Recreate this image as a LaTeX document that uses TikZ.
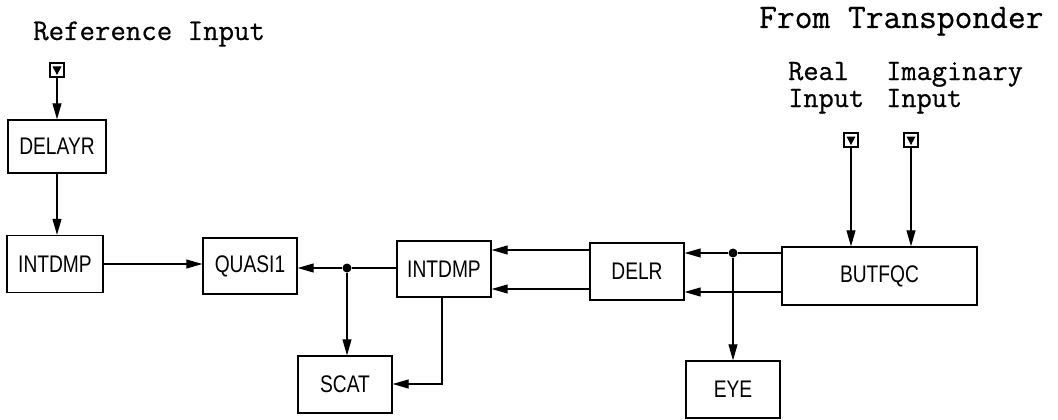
\documentclass[tikz,border=0pt]{standalone}
\usepackage{fontspec}
\setmainfont{Liberation Sans}[FakeStretch=0.8]
\newfontfamily\labfont[FakeBold=0.6]{Latin Modern Mono}
\usetikzlibrary{arrows.meta,calc}
\begin{document}
\begin{tikzpicture}[x=1pt,y=1pt,
  blk/.style={draw,line width=1.4pt,inner sep=0pt,minimum width=94pt,minimum height=57pt,font=\fontsize{24}{24}\selectfont},
  arr/.style={line width=1.1pt,-{Triangle[length=16pt,width=9pt]}},
  ln/.style={line width=1.1pt},
  dot/.style={circle,fill,inner sep=0pt,minimum size=9pt},
  inbox/.style={draw,line width=1.8pt,minimum size=14pt,inner sep=0pt},
  ttl/.style={anchor=base west,inner sep=0pt,font=\labfont\fontsize{30}{30}\selectfont},
  two/.style={anchor=base west,inner sep=0pt,align=left,font=\labfont\fontsize{29.5}{27}\selectfont}]
\useasboundingbox (0,0) rectangle (1058,-420);

% titles
\node[ttl] (tref) at (33,-40) {Reference Input};
\node[ttl,font=\labfont\fontsize{34.5}{34.5}\selectfont] (tfrom) at (759,-28) {From Transponder};
\node[two] (treal) at (788,-107) {Real\\Input};
\node[two] (timag) at (886,-107) {Imaginary\\Input};

% input squares
\node[inbox] (refin) at (57,-70) {};
\node[inbox] (realin) at (851,-140) {};
\node[inbox] (imagin) at (911,-140) {};
\foreach \s in {refin,realin,imagin}{
  \fill ($(\s.center)+(-4.5,3.5)$) -- ++(9,0) -- ++(-4.5,-8.5) -- cycle;
}

% blocks
\node[blk,minimum width=98pt,minimum height=53pt] (delayr) at (57,-146.5) {DELAYR};
\node[blk,minimum width=96pt] (intdmpa) at (55,-264) {INTDMP};
\node[blk,minimum height=56pt] (quasi) at (250,-266) {QUASI1};
\node[blk,minimum height=56pt] (intdmpb) at (444,-269) {INTDMP};
\node[blk] (scat) at (345,-384.5) {SCAT};
\node[blk] (delr) at (637,-271.5) {DELR};
\node[blk,minimum width=195pt,minimum height=58pt] (butfqc) at (879.5,-276) {BUTFQC};
\node[blk] (eye) at (733,-389.5) {EYE};

% junctions
\node[dot] (j1) at (347,-268) {};
\node[dot] (j2) at (733,-253) {};
\coordinate (c1) at (442,-384);
\coordinate (r1) at (0,-250);
\coordinate (r2) at (0,-289);
\coordinate (r3) at (0,-292);

% connectors
\draw[arr] (refin.south) -- (refin.south |- delayr.north);
\draw[arr] (delayr.south) -- (delayr.south |- intdmpa.north);
\draw[arr] (intdmpa.east) -- (intdmpa.east -| quasi.west);
\draw[ln] (intdmpb.west |- j1) -- (j1);
\draw[arr] (j1) -- (j1 -| quasi.east);
\draw[arr] (j1) -- (j1 |- scat.north);
\draw[arr] (intdmpb.south -| c1) -- (c1) -- (c1 -| scat.east);
\draw[arr] (delr.west |- r1) -- (intdmpb.east |- r1);
\draw[arr] (delr.west |- r2) -- (intdmpb.east |- r2);
\draw[ln] (butfqc.west |- j2) -- (j2);
\draw[arr] (j2) -- (j2 -| delr.east);
\draw[arr] (butfqc.west |- r3) -- (delr.east |- r3);
\draw[arr] (j2) -- (j2 |- eye.north);
\draw[arr] (realin.south) -- (realin.south |- butfqc.north);
\draw[arr] (imagin.south) -- (imagin.south |- butfqc.north);
\end{tikzpicture}
\end{document}
